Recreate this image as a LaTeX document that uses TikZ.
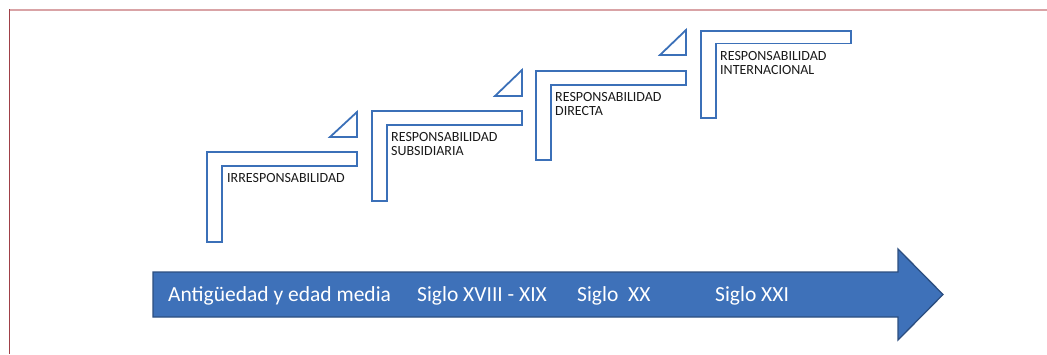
\documentclass[tikz,border=0pt]{standalone}
\usepackage{fontspec}
\setmainfont{Carlito}
\usetikzlibrary{positioning}

\definecolor{stepblue}{HTML}{3B70B8}
\definecolor{arrowfill}{HTML}{3E71B9}
\definecolor{arrowedge}{HTML}{2C4E80}
\definecolor{frametop}{HTML}{D9A3A6}
\definecolor{frameleft}{HTML}{A04048}

\begin{document}
\begin{tikzpicture}[x=1pt, y=-1pt,
		stepline/.style = {draw=stepblue, line width=1.8pt, line join=miter},
		steplabel/.style = {inner sep=0pt, align=left, text=black!90,
			font=\fontsize{14}{13.8}\selectfont},
		eralabel/.style = {inner sep=0pt, anchor=base west, text=white,
			font=\fontsize{21.5}{24}\selectfont}]
		\useasboundingbox (0,0) rectangle (1047,354);
		
		% frame edges
		\draw[frametop, line width=2pt] (9,9.5) -- (1047,9.5);
		\draw[frameleft, line width=1pt] (9.5,9) -- (9.5,354);
		
		% time line
		\draw[fill=arrowfill, draw=arrowedge, line width=1.3pt]
		(153,272) -- (898,272) -- (898,249) -- (943,294.5)
		-- (898,340) -- (898,317) -- (153,317) -- cycle;
		
		\node at (168,301) (era1) [eralabel] {Antigüedad y edad media};
		\node at (417,301) (era2) [eralabel] {Siglo XVIII - XIX};
		\node at (577,301) (era3) [eralabel] {Siglo\ \ XX};
		\node at (715,301) (era4) [eralabel] {Siglo XXI};
		
		% steps
		\coordinate (s1) at (207,152);
		\coordinate (s2) at (372,111);
		\coordinate (s3) at (536,71);
		\coordinate (s4) at (701,31);
		
		\draw[stepline] (s1) -- ++(150,0) -- ++(0,14) -- ++(-135,0) -- ++(0,76) -- ++(-15,0) -- cycle;
		\draw[stepline] (s2) -- ++(150,0) -- ++(0,14) -- ++(-135,0) -- ++(0,76) -- ++(-15,0) -- cycle;
		\draw[stepline] (s3) -- ++(150,0) -- ++(0,14) -- ++(-135,0) -- ++(0,75) -- ++(-15,0) -- cycle;
		\draw[stepline] (s4) -- ++(150,0) -- ++(0,12.5) -- ++(-135,0) -- ++(0,74.5) -- ++(-15,0) -- cycle;
		
		\draw[stepline] (s1) ++(150,-15) -- ++(0,-25) -- ++(-27,25) -- cycle;
		\draw[stepline] (s2) ++(150,-15) -- ++(0,-26) -- ++(-27,26) -- cycle;
		\draw[stepline] (s3) ++(150,-16) -- ++(0,-25) -- ++(-26,25) -- cycle;
		
		\node (lab1) [steplabel, below right=21pt and 20pt of s1, anchor=north west] {IRRESPONSABILIDAD};
		\node (lab2) [steplabel, below right=21.5pt and 19pt of s2, anchor=north west] {RESPONSABILIDAD\\SUBSIDIARIA};
		\node (lab3) [steplabel, below right=21pt and 19pt of s3, anchor=north west] {RESPONSABILIDAD\\DIRECTA};
		\node (lab4) [steplabel, below right=20pt and 19pt of s4, anchor=north west] {RESPONSABILIDAD\\INTERNACIONAL};
	\end{tikzpicture}
\end{document}
